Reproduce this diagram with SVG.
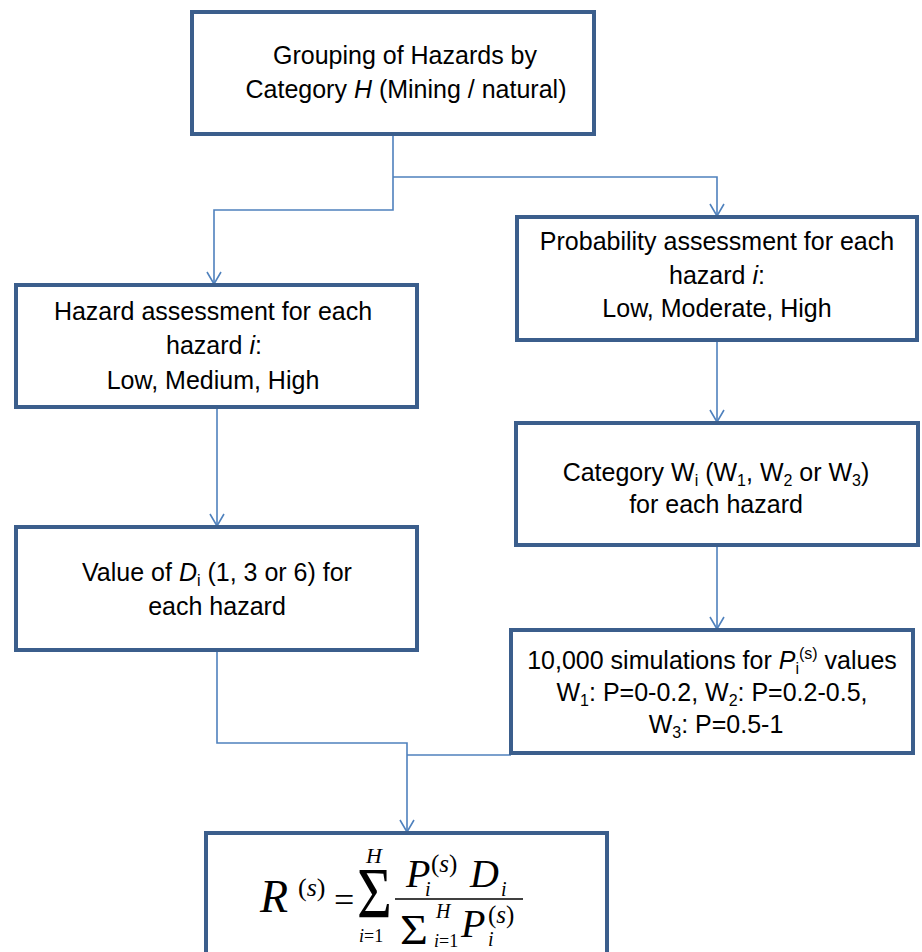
<svg xmlns="http://www.w3.org/2000/svg" width="922" height="952" viewBox="0 0 922 952">
<defs>
<style>
.box{fill:#fff;stroke:#3B5E8C;stroke-width:4}
.t{font-family:"Liberation Sans",Arial,sans-serif;font-size:25px;fill:#000;text-anchor:middle}
.it{font-style:italic}
.sub{font-size:16px}
.con{fill:none;stroke:#4F81BD;stroke-width:1.6}
.m{font-family:"Liberation Serif","Times New Roman",serif;fill:#000}
.mi{font-style:italic}
</style>
<marker id="arr" viewBox="0 0 14 16" refX="13" refY="8" markerWidth="14" markerHeight="16" markerUnits="userSpaceOnUse" orient="auto">
<path d="M1,1 L13,8 L1,15" fill="none" stroke="#4F81BD" stroke-width="1.6"/>
</marker>
</defs>
<rect width="922" height="952" fill="#fff"/>
<g id="connectors">
<path class="con" d="M393,134 V210 H214 V284" marker-end="url(#arr)"/>
<path class="con" d="M393,177 H717 V216" marker-end="url(#arr)"/>
<path class="con" d="M217,407 V526" marker-end="url(#arr)"/>
<path class="con" d="M717,340 V422" marker-end="url(#arr)"/>
<path class="con" d="M717,545 V629" marker-end="url(#arr)"/>
<path class="con" d="M217,650 V743 H407 V832" marker-end="url(#arr)"/>
<path class="con" d="M511,755 H407"/>
</g>
<g id="grouping">
<rect class="box" x="192" y="12" width="402" height="122"/>
<text class="t" x="405" y="64">Grouping of Hazards by</text>
<text class="t" x="406" y="98">Category <tspan class="it">H</tspan> (Mining / natural)</text>
</g>
<g id="hazard-assessment">
<rect class="box" x="16" y="285" width="401" height="122"/>
<text class="t" x="213" y="320">Hazard assessment for each</text>
<text class="t" x="214" y="354">hazard <tspan class="it">i</tspan>:</text>
<text class="t" x="213" y="389">Low, Medium, High</text>
</g>
<g id="probability-assessment">
<rect class="box" x="517" y="217" width="400" height="123"/>
<text class="t" x="717" y="250">Probability assessment for each</text>
<text class="t" x="717" y="284">hazard <tspan class="it">i</tspan>:</text>
<text class="t" x="717" y="317">Low, Moderate, High</text>
</g>
<g id="value-d">
<rect class="box" x="16" y="527" width="401" height="123"/>
<text class="t" x="217" y="581">Value of <tspan class="it">D</tspan><tspan class="sub" dy="5">i</tspan><tspan dy="-5"> (1, 3 or 6) for</tspan></text>
<text class="t" x="217" y="615">each hazard</text>
</g>
<g id="category-w">
<rect class="box" x="516" y="423" width="402" height="122"/>
<text class="t" x="716" y="481">Category W<tspan class="sub" dy="5">i</tspan><tspan dy="-5"> (W</tspan><tspan class="sub" dy="5">1</tspan><tspan dy="-5">, W</tspan><tspan class="sub" dy="5">2</tspan><tspan dy="-5"> or W</tspan><tspan class="sub" dy="5">3</tspan><tspan dy="-5">)</tspan></text>
<text class="t" x="716" y="513">for each hazard</text>
</g>
<g id="simulations">
<rect class="box" x="511" y="630" width="402" height="123"/>
<text class="t" x="712" y="669">10,000 simulations for <tspan class="it">P</tspan><tspan class="sub" dy="5">i</tspan><tspan class="sub" dy="-15">(s)</tspan><tspan dy="10"> values</tspan></text>
<text class="t" x="712" y="701">W<tspan class="sub" dy="5">1</tspan><tspan dy="-5">: P=0-0.2, W</tspan><tspan class="sub" dy="5">2</tspan><tspan dy="-5">: P=0.2-0.5,</tspan></text>
<text class="t" x="716" y="733">W<tspan class="sub" dy="5">3</tspan><tspan dy="-5">: P=0.5-1</tspan></text>
</g>
<g id="formula">
<rect class="box" x="206" y="833" width="401" height="140"/>
<text class="m mi" x="260" y="912" font-size="46">R</text>
<text class="m" x="298" y="896" font-size="26">(<tspan class="mi">s</tspan>)</text>
<text class="m" x="334" y="912" font-size="36">=</text>
<text class="m" transform="translate(357,917) scale(1,1.2)" font-size="60">Σ</text>
<text class="m mi" x="366" y="863" font-size="22">H</text>
<text class="m" x="359" y="942" font-size="18"><tspan class="mi">i</tspan>=1</text>
<line x1="395" y1="899" x2="523" y2="899" stroke="#000" stroke-width="1.6"/>
<text class="m mi" x="406" y="887" font-size="40">P</text>
<text class="m mi" x="425" y="896" font-size="20">i</text>
<text class="m" x="431" y="872" font-size="25">(<tspan class="mi">s</tspan>)</text>
<text class="m mi" x="470" y="887" font-size="40">D</text>
<text class="m mi" x="501" y="896" font-size="20">i</text>
<text class="m" transform="translate(400,944) scale(1,0.9)" font-size="48">Σ</text>
<text class="m mi" x="436" y="918" font-size="20">H</text>
<text class="m" x="434" y="947" font-size="18"><tspan class="mi">i</tspan>=1</text>
<text class="m mi" x="461" y="937" font-size="40">P</text>
<text class="m mi" x="488" y="946" font-size="20">i</text>
<text class="m" x="488" y="923" font-size="25">(<tspan class="mi">s</tspan>)</text>
</g>
</svg>
